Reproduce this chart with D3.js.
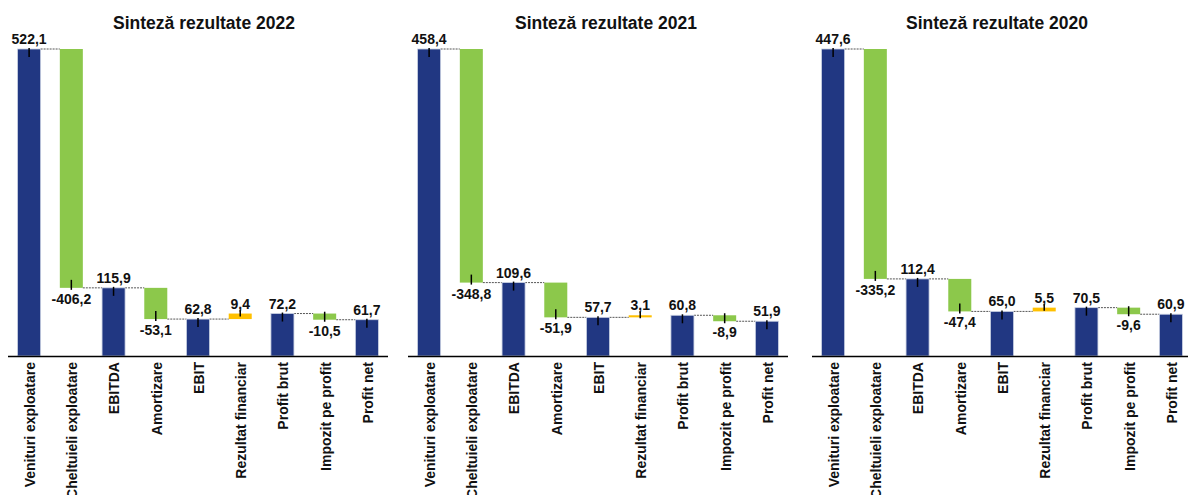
<!DOCTYPE html>
<html><head><meta charset="utf-8">
<script src="https://cdn.jsdelivr.net/npm/d3@7"></script>
<style>body{margin:0;background:#fff;}svg{display:block;font-family:"Liberation Sans",Arial,sans-serif;}</style>
</head><body>
<svg id="c" width="1188" height="495"></svg>
<script>
const categories = ["Venituri exploatare","Cheltuieli exploatare","EBITDA","Amortizare","EBIT","Rezultat financiar","Profit brut","Impozit pe profit","Profit net"];
const kinds = ["total","delta","total","delta","total","delta","total","delta","total"];
const years = ["2022","2021","2020"];
const values2022 = [522.1,-406.2,115.9,-53.1,62.8,9.4,72.2,-10.5,61.7];
const values2021 = [458.4,-348.8,109.6,-51.9,57.7,3.1,60.8,-8.9,51.9];
const values2020 = [447.6,-335.2,112.4,-47.4,65.0,5.5,70.5,-9.6,60.9];
const allValues = [values2022, values2021, values2020];

const svg = d3.select("#c");
const panelX = [8, 408, 812];
const titleX = [204, 606, 997];
const panelW = 380;
const yBase = 356, yTop = 49;
const navy = "#213782", green = "#8CC84B", orange = "#FFC000";
const fmt = v => v.toFixed(1).replace(".", ",");

years.forEach((yr, pi) => {
  const vals = allValues[pi];
  const g = svg.append("g").attr("transform", `translate(${panelX[pi]},0)`);
  const x = d3.scaleBand().domain(categories).range([0, panelW]).paddingInner(0.455).paddingOuter(0.2275);
  const y = d3.scaleLinear().domain([0, vals[0]]).range([yBase, yTop]);
  let run = 0;
  const segs = vals.map((v, i) => {
    let lo, hi, end, start;
    if (kinds[i] === "total") { lo = 0; hi = v; start = 0; end = v; run = v; }
    else { start = run; end = run + v; lo = Math.min(start, end); hi = Math.max(start, end); run = end; }
    return {cat: categories[i], v, kind: kinds[i], lo, hi, start, end};
  });
  const color = d => d.kind === "total" ? navy : (d.v < 0 ? green : orange);

  svg.append("text").attr("x", titleX[pi]).attr("y", 29).attr("text-anchor", "middle")
    .attr("font-size", "17.5px").attr("font-weight", "bold").attr("fill", "#111").text("Sinteză rezultate " + yr);

  segs.forEach((d, i) => {
    if (i === segs.length - 1) return;
    const nx = segs[i + 1];
    if (d.kind === "delta" && d.v > 0) return;
    g.append("line").attr("x1", x(d.cat) + x.bandwidth()).attr("x2", x(nx.cat))
      .attr("y1", y(d.end)).attr("y2", y(d.end))
      .attr("stroke", "#555").attr("stroke-width", 1).attr("stroke-dasharray", "2,1");
  });

  g.selectAll("rect.bar").data(segs).join("rect").attr("class", "bar")
    .attr("x", d => x(d.cat)).attr("width", x.bandwidth())
    .attr("y", d => y(d.hi)).attr("height", d => Math.max(1, y(d.lo) - y(d.hi)))
    .attr("fill", color).attr("stroke", d => d.kind === "total" ? "#c9d0e2" : "none").attr("stroke-width", 0.8);

  segs.forEach(d => {
    const cx = x(d.cat) + x.bandwidth() / 2;
    let y1, y2;
    if (d.kind === "total") { y1 = y(d.hi) - 1; y2 = y(d.hi) + 8; }
    else if (d.v < 0) { y1 = y(d.lo) - 8; y2 = y(d.lo) + 2; }
    else { y1 = y(d.hi) - 4; y2 = y(d.hi) + 3; }
    g.append("line").attr("x1", cx).attr("x2", cx).attr("y1", y1).attr("y2", y2)
      .attr("stroke", "#000").attr("stroke-width", 1.5);
    const ly = (d.kind === "delta" && d.v < 0) ? y(d.lo) + 16 : y(d.hi) - 5;
    g.append("text").attr("x", cx).attr("y", ly).attr("text-anchor", "middle")
      .attr("font-size", "14px").attr("font-weight", "bold").attr("fill", "#111").text(fmt(d.v));
  });

  const ax = g.append("g").attr("transform", `translate(0,${yBase})`).call(d3.axisBottom(x).tickSize(0).tickPadding(0));
  ax.select(".domain").attr("stroke", "#000").attr("stroke-width", 1.5).attr("d", `M0,0.5H${panelW}`);
  ax.selectAll(".tick text").attr("font-family", "Liberation Sans, Arial, sans-serif")
    .attr("font-size", "14px").attr("font-weight", "bold").attr("fill", "#111")
    .attr("transform", "rotate(-90)").attr("text-anchor", "end").attr("dy", "0.35em")
    .attr("x", -6).attr("y", 1);
});
</script>
</body></html>
